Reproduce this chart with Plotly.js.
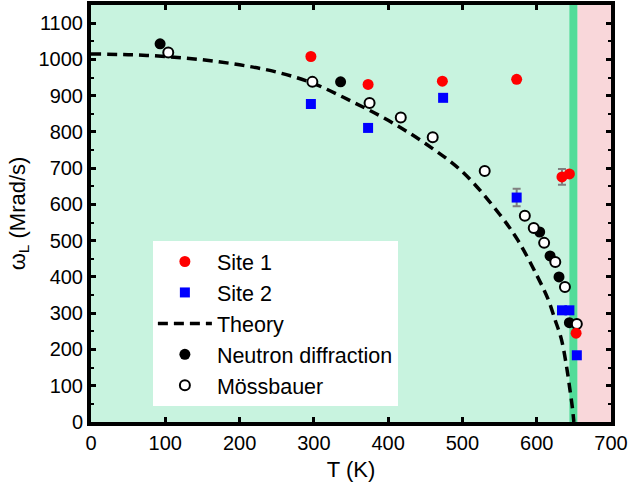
<!DOCTYPE html>
<html>
<head>
<meta charset="utf-8">
<script src="https://cdn.plot.ly/plotly-3.0.1.min.js"></script>
<style>html,body{margin:0;padding:0;background:#fff;}#chart{width:629px;height:492px;}</style>
</head>
<body>
<div id="chart"></div>
<script>
// Site 1 (red circles)
const site1T = [296, 373, 473, 573, 634, 644, 653];
const site1W = [1008, 931, 940, 945, 676, 684, 245];
const site1Err = [6, 5, 6, 6, 22, 6, 6];
// Site 2 (blue squares)
const site2T = [296, 373, 474, 573, 634, 644, 654];
const site2W = [877, 811, 894, 619, 308, 308, 184];
const site2Err = [5, 5, 6, 24, 8, 5, 5];
// Theory (dashed curve)
const theoryT = [0, 50, 100, 150, 200, 250, 300, 350, 400, 450, 500, 550, 575, 600, 615, 625, 633, 640, 645, 648, 650];
const theoryW = [1015, 1013, 1008, 999, 985, 965, 933, 885, 832, 768, 690, 573, 500, 405, 340, 280, 230, 155, 85, 40, 0];
// Neutron diffraction (filled black circles)
const neutronT = [93, 336, 604, 618, 630, 644];
const neutronW = [1043, 938, 524, 458, 400, 274];
// Mössbauer (open circles)
const mossT = [104, 298, 375, 417, 460, 530, 584, 596, 610, 625, 638, 654];
const mossW = [1019, 938, 880, 840, 785, 692, 569, 535, 494, 441, 372, 270];
// Background phase regions (T boundaries)
const phaseBounds = [0, 644, 655, 700];
const phaseColors = ['#c8f3df', '#52dc99', '#f9d7da'];

const font = 'Liberation Sans, Arial, sans-serif';

const shapes = [];
for (let i = 0; i < phaseColors.length; i++) {
  shapes.push({type: 'rect', xref: 'x', yref: 'paper', x0: phaseBounds[i], x1: phaseBounds[i+1], y0: 0, y1: 1,
    fillcolor: phaseColors[i], line: {width: 0}, layer: 'below'});
}

const traces = [
  {x: theoryT, y: theoryW, mode: 'lines', name: 'Theory', line: {color: '#000', width: 3.5, dash: '10px,6px', shape: 'spline'}, legendrank: 3},
  {x: neutronT, y: neutronW, mode: 'markers', name: 'Neutron diffraction', marker: {color: '#000', size: 11, symbol: 'circle'}, legendrank: 4},
  {x: mossT, y: mossW, mode: 'markers', name: 'Mössbauer', marker: {color: '#fff', size: 10, symbol: 'circle', line: {color: '#000', width: 2}}, legendrank: 5},
  {x: site1T, y: site1W, mode: 'markers', name: 'Site 1', marker: {color: '#ff0000', size: 11, symbol: 'circle'},
    error_y: {type: 'data', array: site1Err, color: '#808080', thickness: 2, width: 4}, legendrank: 1},
  {x: site2T, y: site2W, mode: 'markers', name: 'Site 2', marker: {color: '#0000ff', size: 10, symbol: 'square'},
    error_y: {type: 'data', array: site2Err, color: '#808080', thickness: 2, width: 4}, legendrank: 2}
];

const layout = {
  width: 629, height: 492,
  margin: {l: 91, r: 18, t: 5, b: 70},
  paper_bgcolor: '#fff', plot_bgcolor: '#c8f3df',
  font: {family: font, size: 20, color: '#000'},
  shapes: shapes,
  showlegend: true,
  legend: {x: 0.119, y: 0.434, xanchor: 'left', yanchor: 'top', bgcolor: '#fff', borderwidth: 0,
    font: {family: font, size: 21.5, color: '#000'}, itemwidth: 54},
  xaxis: {range: [0, 700], dtick: 100, tick0: 0, showgrid: false, zeroline: false,
    showline: true, linecolor: '#000', linewidth: 4, mirror: 'ticks',
    ticks: 'inside', ticklen: 5, tickwidth: 3, tickcolor: '#000',
    tickfont: {family: font, size: 20},
    title: {text: 'T (K)', font: {family: font, size: 22}, standoff: 10}},
  yaxis: {range: [0, 1150], dtick: 100, tick0: 0, showgrid: false, zeroline: false,
    showline: true, linecolor: '#000', linewidth: 4, mirror: 'ticks',
    ticks: 'inside', ticklen: 5, tickwidth: 3, tickcolor: '#000',
    minor: {dtick: 50, ticks: 'inside', ticklen: 3, tickwidth: 2, tickcolor: '#000', showgrid: false},
    tickfont: {family: font, size: 20},
    title: {text: 'ω<sub>L</sub> (Mrad/s)', font: {family: font, size: 22}, standoff: 8}}
};

Plotly.newPlot('chart', traces, layout, {displayModeBar: false, staticPlot: true});
</script>
</body>
</html>
